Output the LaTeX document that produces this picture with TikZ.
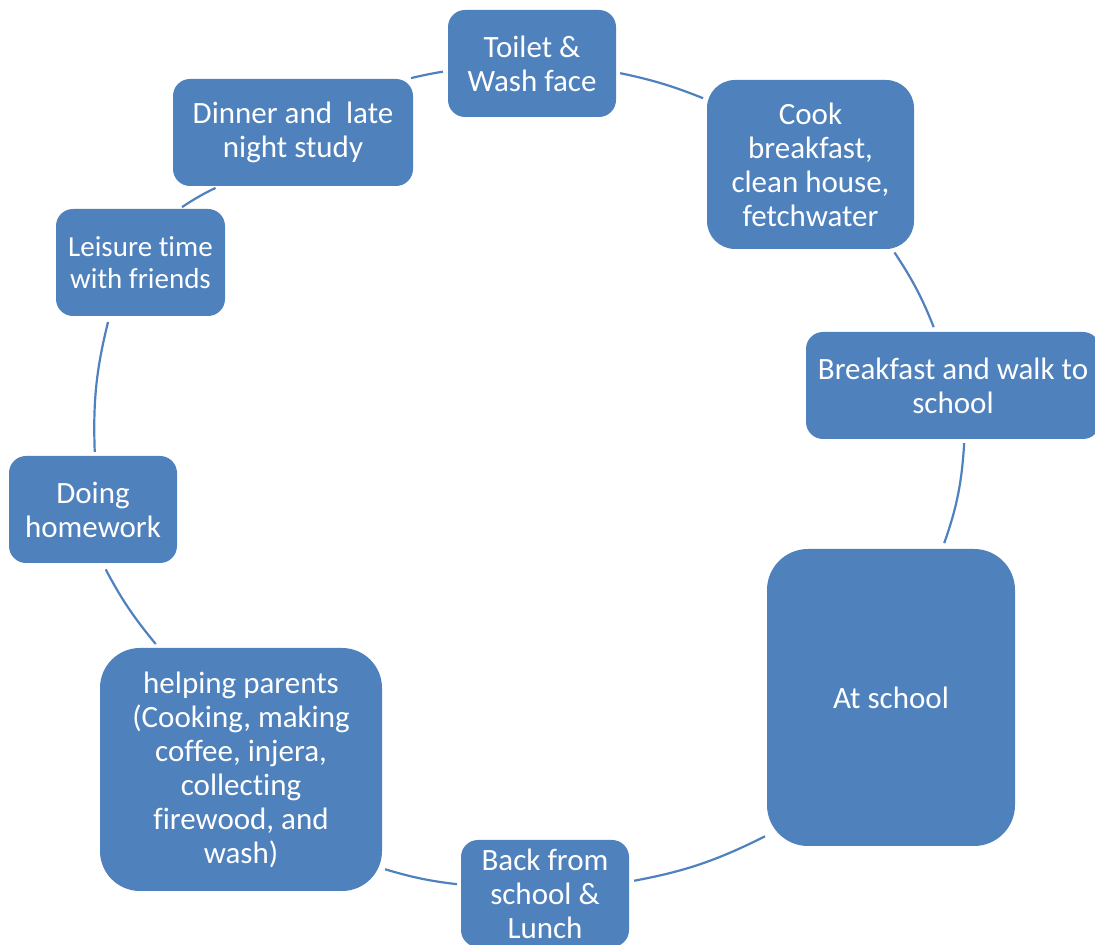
\documentclass[tikz,border=0pt]{standalone}
\usepackage{fontspec}
\setmainfont{Carlito}[Ligatures=NoCommon]
\definecolor{boxblue}{HTML}{4F81BD}
\begin{document}
\begin{tikzpicture}[x=1pt,y=1pt,
  box/.style={rectangle, rounded corners=#1, fill=boxblue, text=white, align=center, inner sep=0pt,
    font=\fontsize{31}{34}\selectfont},
  box/.default=17pt]
\clip (0,0) rectangle (1095,945);
\node[box, minimum width=168pt, minimum height=107pt] (toilet) at (532,881.5) {Toilet \&\\Wash face};
\node[box, minimum width=240pt, minimum height=107pt] (dinner) at (293,812.5) {Dinner and \ late\\night study};
\node[box=28pt, minimum width=207pt, minimum height=169pt] (cook) at (810.5,780.5) {Cook\\breakfast,\\clean house,\\fetchwater};
\node[box, minimum width=169pt, minimum height=107pt, font=\fontsize{29}{32}\selectfont] (leisure) at (140.5,682.5) {Leisure time\\with friends};
\node[box, minimum width=294pt, minimum height=107pt] (breakfast) at (953,559.5) {Breakfast and walk to\\school};
\node[box, minimum width=168pt, minimum height=107pt] (doing) at (93,435.5) {Doing\\homework};
\node[box=41pt, minimum width=248pt, minimum height=297pt] (school) at (891,247.5) {At school};
\node[box, minimum width=168pt, minimum height=107pt] (back) at (545,51.5) {Back from\\school \&\\Lunch};
\node[box=40pt, minimum width=282pt, minimum height=243pt] (helping) at (241,175.5) {helping parents\\(Cooking, making\\coffee, injera,\\collecting\\firewood, and\\wash)};
\draw[boxblue, line width=2.2pt, shorten <=4pt, shorten >=4pt] (toilet.-6) to[bend left=5] (cook.148);
\draw[boxblue, line width=2.2pt, shorten <=4pt, shorten >=5pt] (cook.-46) to[bend left=6] (breakfast.108);
\draw[boxblue, line width=2.2pt, shorten <=4pt, shorten >=6pt] (breakfast.-78) to[bend left=8] (school.71);
\draw[boxblue, line width=2.2pt, shorten <=2pt, shorten >=5pt] (school.-132) to[bend left=8] (back.8);
\draw[boxblue, line width=2.2pt, shorten <=4pt, shorten >=3pt] (back.174) to[bend left=5] (helping.-35);
\draw[boxblue, line width=2.2pt, shorten <=5pt, shorten >=7pt] (helping.124) to[bend left=6] (doing.-80);
\draw[boxblue, line width=2.2pt, shorten <=4pt, shorten >=6pt] (doing.88) to[bend left=8] (leisure.-120);
\draw[boxblue, line width=2.2pt, shorten <=3pt, shorten >=4pt] (leisure.54) to[bend left=4] (dinner.-144);
\draw[boxblue, line width=2.2pt, shorten <=3pt, shorten >=5pt] (dinner.25) to[bend left=2] (toilet.185);
\end{tikzpicture}
\end{document}
